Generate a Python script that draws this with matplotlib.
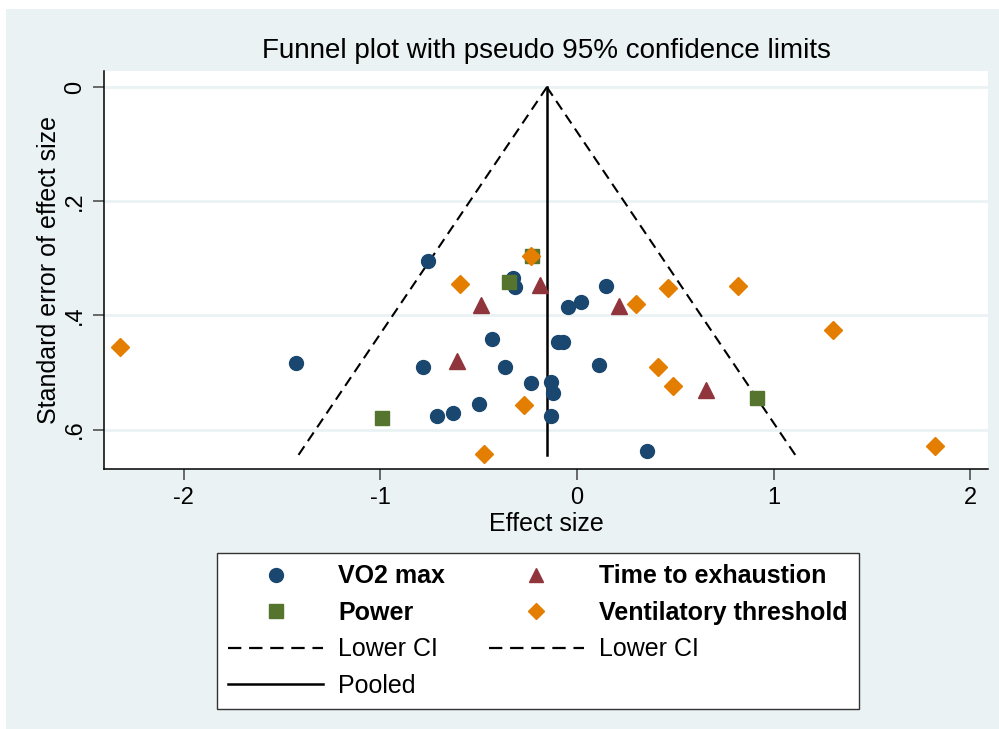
import numpy as np
import matplotlib.pyplot as plt
from matplotlib.patches import Rectangle
from matplotlib.lines import Line2D

# effect size / standard error
vo2_es = [-0.755, -0.325, -0.315, -0.047, 0.020, 0.146, -0.434, -0.098, -0.070,
          -0.785, -0.368, 0.110, -0.234, -0.132, -0.120, -0.497, -0.710, -0.630,
          -0.134, 0.356, -1.429]
vo2_se = [0.305, 0.334, 0.350, 0.385, 0.377, 0.348, 0.442, 0.447, 0.447,
          0.490, 0.490, 0.486, 0.519, 0.516, 0.535, 0.555, 0.576, 0.571,
          0.577, 0.638, 0.484]

tte_es = [-0.188, -0.486, -0.610, 0.212, 0.657]
tte_se = [0.346, 0.381, 0.480, 0.383, 0.530]

pow_es = [-0.227, -0.344, -0.993, 0.915]
pow_se = [0.295, 0.341, 0.580, 0.544]

vt_es = [-0.234, -0.595, -0.268, -0.472, 0.413, 0.490, 0.464, 0.302, 0.819,
         1.300, 1.820, -2.323]
vt_se = [0.295, 0.345, 0.557, 0.642, 0.490, 0.524, 0.352, 0.380, 0.348,
         0.426, 0.628, 0.455]

pooled = -0.153
se_max = 0.645

xticks = [-2, -1, 0, 1, 2]
yticks = [0, 0.2, 0.4, 0.6]
ytick_labels = ['0', '.2', '.4', '.6']

NAVY = '#1A476F'
MAROON = '#90353B'
GREEN = '#55752F'
ORANGE = '#E37E00'
BG = '#EAF2F3'

plt.rcParams['font.family'] = ['Liberation Sans', 'DejaVu Sans']

fig = plt.figure(figsize=(9.99, 7.29), dpi=100)
fig.patch.set_facecolor('white')
fig.add_artist(Rectangle((6 / 999, 0), 1, 1 - 9 / 729, transform=fig.transFigure,
                         facecolor=BG, edgecolor='none', zorder=-10))

ax = fig.add_axes([104 / 999, 1 - 469 / 729, (988 - 104) / 999, (469 - 71) / 729])
ax.set_facecolor('white')

# funnel lines
se = np.array([0, se_max])
ax.plot(pooled - 1.96 * se, se, color='black', lw=1.5, ls=(0, (5, 3)), zorder=2)
ax.plot(pooled + 1.96 * se, se, color='black', lw=1.5, ls=(0, (5, 3)), zorder=2)
ax.plot([pooled, pooled], se, color='black', lw=1.8, zorder=2)

ax.plot(vo2_es, vo2_se, 'o', color=NAVY, ms=10, ls='none', zorder=3)
ax.plot(tte_es, tte_se, '^', color=MAROON, ms=11, ls='none', zorder=3)
ax.plot(pow_es, pow_se, 's', color=GREEN, ms=10, ls='none', zorder=3)
ax.plot(vt_es, vt_se, 'D', color=ORANGE, ms=8.7, ls='none', zorder=3)

ax.set_xlim(-2.405, 2.09)
ax.set_ylim(0.669, -0.0283)
ax.set_xticks(xticks)
ax.set_xticklabels([str(t) for t in xticks])
ax.set_yticks(yticks)
ax.set_yticklabels(ytick_labels, rotation=90, va='center')
ax.yaxis.grid(True, color=BG, lw=2)
ax.set_axisbelow(True)

for s in ['top', 'right']:
    ax.spines[s].set_visible(False)
for s in ['left', 'bottom']:
    ax.spines[s].set_linewidth(1.1)
ax.tick_params(length=8, width=1.1, color='#444444', labelsize=17, pad=5)

ax.set_xlabel('Effect size', fontsize=18, labelpad=2)
ax.set_ylabel('Standard error of effect size', fontsize=18, labelpad=2)
ax.set_title('Funnel plot with pseudo 95% confidence limits', fontsize=20, pad=9)

h_vo2 = Line2D([], [], marker='o', color=NAVY, ms=10, ls='none')
h_tte = Line2D([], [], marker='^', color=MAROON, ms=10, ls='none')
h_pow = Line2D([], [], marker='s', color=GREEN, ms=10, ls='none')
h_vt = Line2D([], [], marker='D', color=ORANGE, ms=8, ls='none')
h_ci = Line2D([], [], color='black', lw=1.6, ls=(0, (6, 3.5)))
h_pool = Line2D([], [], color='black', lw=1.8)

handles = [h_vo2, h_pow, h_ci, h_pool, h_tte, h_vt, h_ci]
labels = ['VO2 max', 'Power', 'Lower CI', 'Pooled',
          'Time to exhaustion', 'Ventilatory threshold', 'Lower CI']
leg = fig.legend(handles, labels, ncol=2, loc='upper left',
                 bbox_to_anchor=(217 / 999, 1 - 553 / 729), fontsize=18,
                 frameon=True, fancybox=False, edgecolor='#333333',
                 facecolor='white', framealpha=1,
                 handlelength=3.8, handletextpad=0.6, columnspacing=1.75,
                 labelspacing=0.5, borderpad=0.45, borderaxespad=0)
leg.get_frame().set_linewidth(1.0)
for i, t in enumerate(leg.get_texts()):
    if labels[i] in ('VO2 max', 'Power', 'Time to exhaustion', 'Ventilatory threshold'):
        t.set_fontweight('bold')

fig.savefig('out.png', dpi=100)
